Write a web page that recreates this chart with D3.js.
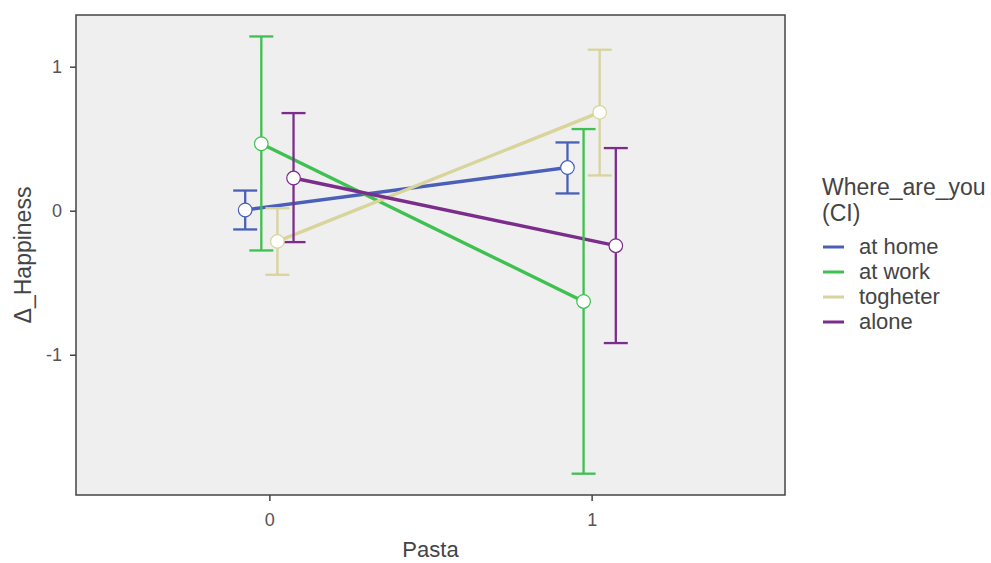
<!DOCTYPE html>
<html><head><meta charset="utf-8">
<script src="https://cdn.jsdelivr.net/npm/d3@7"></script>
<style>body{margin:0;background:#fff}svg{display:block}text{font-family:"Liberation Sans",Arial,sans-serif}</style>
</head><body><svg id="c" width="991" height="563"></svg>
<script>
const pastaLevels = [0, 1];
const seriesNames = ["at home", "at work", "togheter", "alone"];
const seriesColors = ["#4a60b8", "#3ec150", "#d8d49c", "#7b2d8c"];
const meanAtHome = [0.005, 0.30];
const lowAtHome = [-0.13, 0.12];
const highAtHome = [0.14, 0.474];
const meanAtWork = [0.465, -0.63];
const lowAtWork = [-0.276, -1.826];
const highAtWork = [1.21, 0.567];
const meanTogheter = [-0.213, 0.683];
const lowTogheter = [-0.445, 0.245];
const highTogheter = [0.017, 1.118];
const meanAlone = [0.227, -0.243];
const lowAlone = [-0.218, -0.919];
const highAlone = [0.678, 0.435];
const yTicks = [-1, 0, 1];
const xTicks = [0, 1];

const series = [
  {name: seriesNames[0], color: seriesColors[0], mean: meanAtHome, low: lowAtHome, high: highAtHome},
  {name: seriesNames[1], color: seriesColors[1], mean: meanAtWork, low: lowAtWork, high: highAtWork},
  {name: seriesNames[2], color: seriesColors[2], mean: meanTogheter, low: lowTogheter, high: highTogheter},
  {name: seriesNames[3], color: seriesColors[3], mean: meanAlone, low: lowAlone, high: highAlone}
];

const svg = d3.select("#c");
const L = 76, R = 785, T = 15, B = 495;
const x = d3.scaleLinear().domain([-0.6, 1.6]).range([L, R]);
const y = d3.scaleLinear().domain([-1.974, 1.359]).range([B, T]);
const dodge = d3.scalePoint().domain(seriesNames).range([-0.075, 0.075]);
const fmt = d => String(d);

svg.append("rect").attr("x", L).attr("y", T).attr("width", R - L).attr("height", B - T)
  .attr("fill", "#efefef");

// axes
const yAxis = svg.append("g").attr("transform", `translate(${L},0)`)
  .call(d3.axisLeft(y).tickValues(yTicks).tickSize(6).tickPadding(8).tickFormat(fmt));
const xAxis = svg.append("g").attr("transform", `translate(0,${B})`)
  .call(d3.axisBottom(x).tickValues(xTicks).tickSize(6).tickPadding(12).tickFormat(fmt));
[yAxis, xAxis].forEach(g => {
  g.attr("font-size", 18).attr("font-family", "Liberation Sans, Arial, sans-serif");
  g.select(".domain").remove();
  g.selectAll(".tick line").attr("stroke", "#444").attr("stroke-width", 1.5);
  g.selectAll(".tick text").attr("fill", "#555").style("font-size", "18px");
});

const plot = svg.append("g");
series.forEach(s => {
  const px = i => x(pastaLevels[i] + dodge(s.name));
  plot.append("path")
    .attr("d", d3.line().x((d, i) => px(i)).y(d => y(d))(s.mean))
    .attr("fill", "none").attr("stroke", s.color).attr("stroke-width", 3.4);
});
series.forEach(s => {
  const px = i => x(pastaLevels[i] + dodge(s.name));
  s.mean.forEach((m, i) => {
    const g = plot.append("g").attr("stroke", s.color).attr("stroke-width", 2.3);
    g.append("line").attr("x1", px(i)).attr("x2", px(i)).attr("y1", y(s.low[i])).attr("y2", y(s.high[i]));
    g.append("line").attr("x1", px(i) - 12).attr("x2", px(i) + 12).attr("y1", y(s.low[i])).attr("y2", y(s.low[i]));
    g.append("line").attr("x1", px(i) - 12).attr("x2", px(i) + 12).attr("y1", y(s.high[i])).attr("y2", y(s.high[i]));
  });
});
series.forEach(s => {
  const px = i => x(pastaLevels[i] + dodge(s.name));
  s.mean.forEach((m, i) => {
    plot.append("circle").attr("cx", px(i)).attr("cy", y(m)).attr("r", 6.8)
      .attr("fill", "#fff").attr("stroke", s.color).attr("stroke-width", 1.2);
  });
});

// border
svg.append("rect").attr("x", L).attr("y", T).attr("width", R - L).attr("height", B - T)
  .attr("fill", "none").attr("stroke", "#444").attr("stroke-width", 1.5);

// axis titles
svg.append("text").attr("x", (L + R) / 2).attr("y", 557).attr("text-anchor", "middle")
  .attr("font-size", 22).attr("fill", "#444").text("Pasta");
svg.append("text").attr("transform", `translate(31,${(T + B) / 2}) rotate(-90)`)
  .attr("text-anchor", "middle").attr("font-size", 23).attr("fill", "#444").text("Δ_Happiness");

// legend
const lg = svg.append("g").attr("transform", "translate(822,0)");
lg.append("text").attr("x", 0).attr("y", 195).attr("font-size", 23).attr("fill", "#444").text("Where_are_you");
lg.append("text").attr("x", 0).attr("y", 221).attr("font-size", 23).attr("fill", "#444").text("(CI)");
series.forEach((s, i) => {
  const yy = 254 + i * 25;
  lg.append("line").attr("x1", 1).attr("x2", 22).attr("y1", yy - 7).attr("y2", yy - 7)
    .attr("stroke", s.color).attr("stroke-width", 3);
  lg.append("text").attr("x", 37).attr("y", yy).attr("font-size", 22).attr("fill", "#444").text(s.name);
});
</script></body></html>
